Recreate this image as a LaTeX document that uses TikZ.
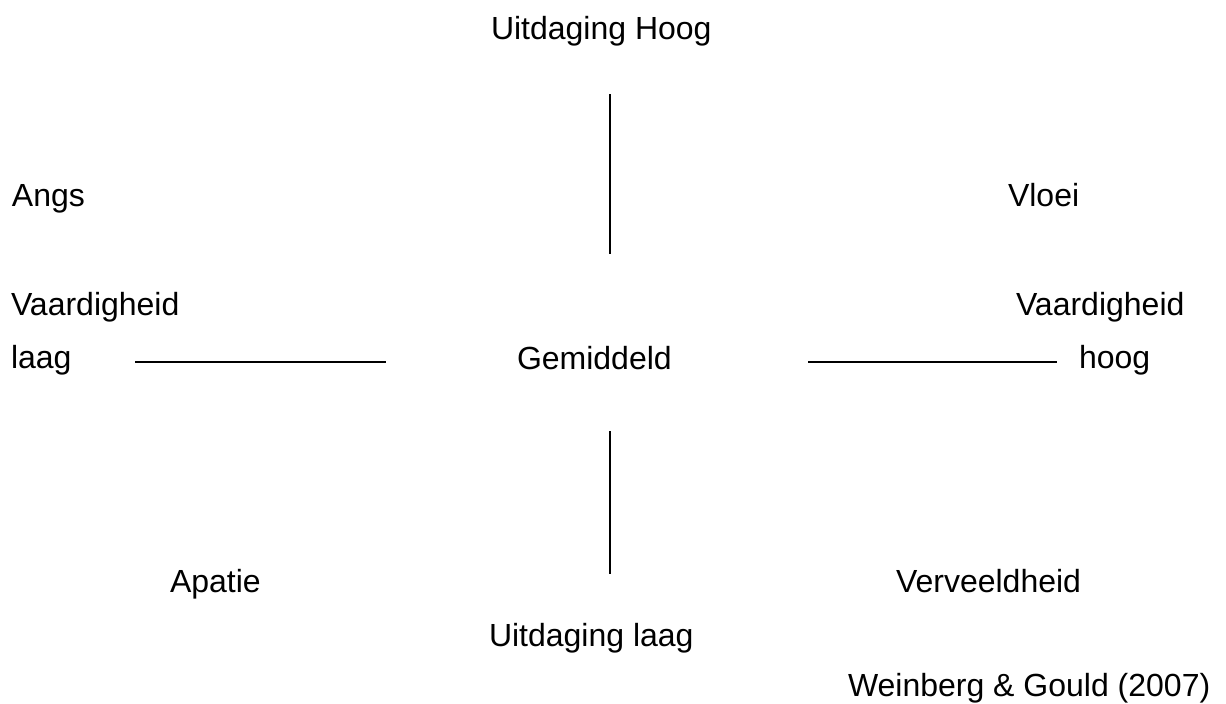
\documentclass[tikz,border=0pt]{standalone}
\usepackage{fontspec}
\setmainfont{Liberation Sans}
\begin{document}
\begin{tikzpicture}[x=1pt,y=-1pt,
  lbl/.style={anchor=base west,inner sep=0pt,outer sep=0pt,font=\fontsize{32}{38}\selectfont},
  axis/.style={line width=2pt,black}]
\useasboundingbox[fill=white] (0,0) rectangle (1226,704);
\node[lbl] (uh) at (491,39) {Uitdaging Hoog};
\node[lbl] (angs) at (12,206) {Angs};
\node[lbl] (vloei) at (1008,206) {Vloei};
\node[lbl] (vl) at (11,315) {Vaardigheid};
\node[lbl] (laag) at (11,368) {laag};
\node[lbl] (gem) at (517,369) {Gemiddeld};
\node[lbl] (vr) at (1016,315) {Vaardigheid};
\node[lbl] (hoog) at (1079,368) {hoog};
\node[lbl] (apatie) at (170,592) {Apatie};
\node[lbl] (verv) at (896,592) {Verveeldheid};
\node[lbl] (ul) at (489,646) {Uitdaging laag};
\node[lbl] (src) at (848,696) {Weinberg \& Gould (2007)};
\coordinate (t1) at (609.5,94);
\coordinate (t2) at (609.5,254);
\coordinate (b1) at (609.5,431);
\coordinate (b2) at (609.5,574);
\coordinate (l1) at (135,362);
\coordinate (l2) at (386,362);
\coordinate (r1) at (808,362);
\coordinate (r2) at (1057,362);
\draw[axis] (t1) -- (t2);
\draw[axis] (b1) -- (b2);
\draw[axis] (l1) -- (l2);
\draw[axis] (r1) -- (r2);
\end{tikzpicture}
\end{document}
